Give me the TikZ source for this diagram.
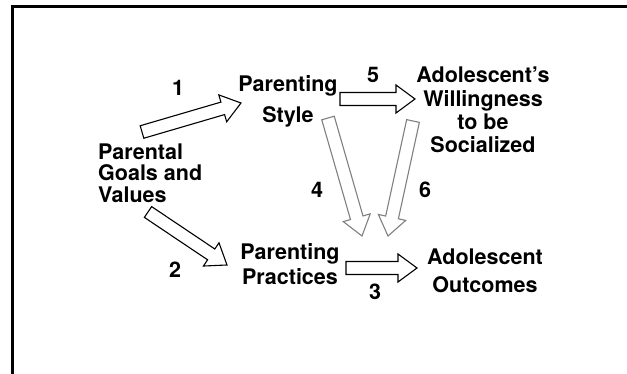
\documentclass[tikz,border=0pt]{standalone}
\usepackage{fontspec}
\setmainfont{TeX Gyre Heros}
\usetikzlibrary{calc}

% hollow block arrow from #2 to #3
\newcommand{\blockarrow}[3][]{%
  \draw[barrow,#1] let \p1=($(#3)-(#2)$), \n1={atan2(\y1,\x1)}, \n2={veclen(\x1,\y1)} in
    [shift={(#2)}, rotate=\n1]
    (0,-6.5) -- (\n2-19,-6.5) -- (\n2-19,-14) -- (\n2,0) -- (\n2-19,14) -- (\n2-19,6.5) -- (0,6.5) -- cycle;}

\begin{document}
\begin{tikzpicture}[x=1pt,y=-1pt,
  lbl/.style={font=\fontsize{21.5}{24}\selectfont\bfseries, align=center, inner sep=0pt},
  num/.style={font=\fontsize{21.5}{24}\selectfont\bfseries, inner sep=0pt},
  barrow/.style={draw=black, fill=white, line width=1.1pt, line join=miter}]
\useasboundingbox (0,0) rectangle (627,374);
\draw[line width=2.2pt] (12.5,374) -- (12.5,6.5) -- (627,6.5);

\node[lbl, align=left, anchor=west, font=\fontsize{21.5}{21.5}\selectfont\bfseries] (goals) at (98,173) {Parental\\Goals and\\Values};
\node[lbl, font=\fontsize{21.5}{31}\selectfont\bfseries] (style) at (288,101) {Parenting\\Style};
\node[lbl, font=\fontsize{21.5}{23.3}\selectfont\bfseries] (will) at (483,110) {Adolescent's\\Willingness\\to be\\Socialized};
\node[lbl, font=\fontsize{21.5}{25}\selectfont\bfseries] (pract) at (290,264) {Parenting\\Practices};
\node[lbl, font=\fontsize{21.5}{28}\selectfont\bfseries] (outc) at (485,270.5) {Adolescent\\Outcomes};

% arrow ends
\coordinate (t1) at (142,132); \coordinate (h1) at (241,103);
\coordinate (t2) at (148,212); \coordinate (h2) at (227,265);
\coordinate (t3) at (346,268); \coordinate (h3) at (417,268);
\coordinate (t4) at (328,118); \coordinate (h4) at (362,236);
\coordinate (t5) at (340,99);  \coordinate (h5) at (415,99);
\coordinate (t6) at (413,121); \coordinate (h6) at (388,236);

\blockarrow{t1}{h1}
\blockarrow{t2}{h2}
\blockarrow{t3}{h3}
\blockarrow[draw=gray]{t4}{h4}
\blockarrow{t5}{h5}
\blockarrow[draw=gray]{t6}{h6}

\node[num] (n1) at (178,88) {1};
\node[num] (n2) at (175,270) {2};
\node[num] (n3) at (375,292) {3};
\node[num] (n4) at (317,190) {4};
\node[num] (n5) at (373,75) {5};
\node[num] (n6) at (425,190) {6};
\end{tikzpicture}
\end{document}
